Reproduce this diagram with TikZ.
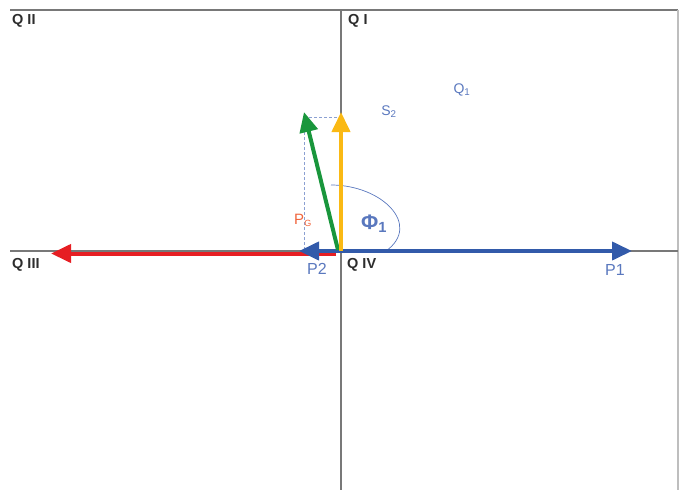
\documentclass[tikz,border=0pt]{standalone}
\usepackage{fontspec}
\setmainfont{Liberation Sans}
\usetikzlibrary{arrows.meta}
\definecolor{axisgray}{RGB}{120,120,120}
\definecolor{framegray}{RGB}{190,190,190}
\definecolor{vblue}{RGB}{50,90,170}
\definecolor{lblue}{RGB}{90,120,190}
\definecolor{vred}{RGB}{230,30,35}
\definecolor{vgreen}{RGB}{25,150,60}
\definecolor{vyellow}{RGB}{250,185,20}
\definecolor{lorange}{RGB}{240,100,60}
\definecolor{qgray}{RGB}{45,45,45}
\tikzset{
  vec/.style={line width=4pt,-{Triangle[length=20pt,width=18pt]}},
  quad/.style={font=\fontsize{14.5}{14.5}\selectfont\bfseries, text=qgray, inner sep=0pt, anchor=north west},
  lab/.style={font=\fontsize{16}{16}\selectfont, text=lblue, inner sep=0pt},
  guide/.style={lblue!70, densely dashed, line width=0.5pt}
}
\begin{document}
\begin{tikzpicture}[x=1pt,y=-1pt]
\useasboundingbox (0,0) rectangle (689,490);
% frame and axes
\draw[axisgray, line width=1.3pt] (10,10) -- (678,10);
\draw[framegray, line width=1.6pt] (678,10) -- (678,490);
\draw[axisgray, line width=1.2pt] (341,10) -- (341,490);
\draw[axisgray, line width=1.2pt] (10,251) -- (678,251);
\coordinate (O) at (341,251);
\coordinate (Or) at (336,253.5);
\coordinate (Og) at (338,250);
\coordinate (P1) at (632,251);
\coordinate (P2) at (299,251);
\coordinate (R) at (51,253.5);
\coordinate (Y) at (341,112);
\coordinate (G) at (304,112);
\coordinate (C) at (304,117);
\coordinate (Cy) at (341,117);
\coordinate (Cx) at (304,250);
% dashed guides
\draw[guide] (C) -- (Cy);
\draw[guide] (C) -- (Cx);
% angle arc
\draw[lblue, line width=0.7pt] (331,185) .. controls (382,185) and (422,225) .. (386,251);
% vectors
\draw[vec, vred] (Or) -- (R);
\draw[vec, vblue] (O) -- (P1);
\draw[vec, vblue] (O) -- (P2);
\draw[vec, vgreen] (Og) -- (G);
\draw[vec, vyellow] (O) -- (Y);
% labels
\node[quad] (q2) at (12,14) {Q II};
\node[quad] (q1) at (348,14) {Q I};
\node[quad] (q3) at (12,258) {Q III};
\node[quad] (q4) at (347,258) {Q IV};
\node[lab] (p1) at (615,270) {P1};
\node[lab] (p2) at (317,269) {P2};
\node[lab, text=lorange, font=\fontsize{15}{15}\selectfont] (pg) at (303,220) {P\textsubscript{\fontsize{9}{9}\selectfont G}};
\node[lab, font=\fontsize{21}{21}\selectfont\bfseries] (phi) at (374,224) {Φ\textsubscript{1}};
\node[lab, font=\fontsize{14}{14}\selectfont] (s2) at (389,112) {S\textsubscript{2}};
\node[lab, font=\fontsize{14}{14}\selectfont] (q1l) at (462,90) {Q\textsubscript{1}};
\end{tikzpicture}
\end{document}
